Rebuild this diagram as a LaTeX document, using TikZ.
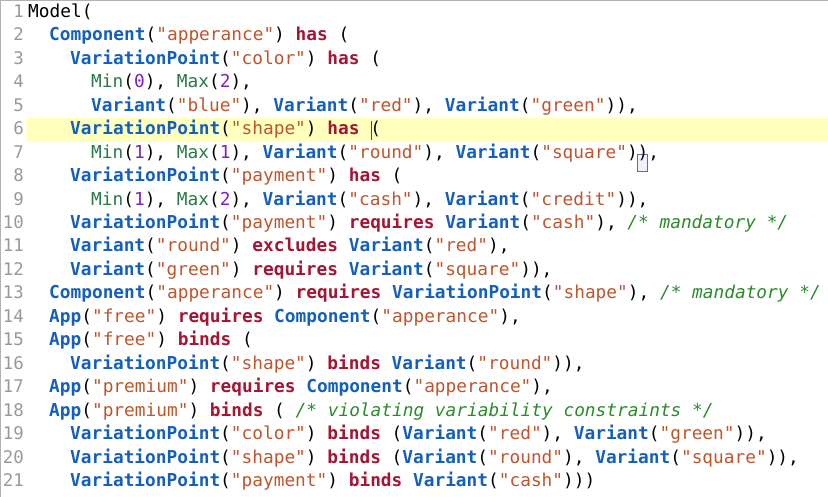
\documentclass[tikz,border=0pt]{standalone}
\usepackage{fontspec}
\usepackage{xcolor}
\newfontfamily\codefont{DejaVu Sans Mono}[Scale=1]
\definecolor{kwblue}{RGB}{20,95,190}
\definecolor{opred}{RGB}{165,20,50}
\definecolor{strbrown}{RGB}{190,85,45}
\definecolor{fngreen}{RGB}{40,120,70}
\definecolor{numpurple}{RGB}{125,30,200}
\definecolor{cmtgreen}{RGB}{40,140,40}
\definecolor{hlyellow}{RGB}{255,255,190}
\newcommand{\kw}[1]{\textcolor{kwblue}{\bfseries #1}}
\newcommand{\op}[1]{\textcolor{opred}{\bfseries #1}}
\newcommand{\st}[1]{\textcolor{strbrown}{"#1"}}
\newcommand{\fn}[1]{\textcolor{fngreen}{#1}}
\newcommand{\nm}[1]{\textcolor{numpurple}{#1}}
\newcommand{\cm}[1]{\textcolor{cmtgreen}{\itshape #1}}
\tikzset{
    code/.style={anchor=base west, inner sep=0pt, font=\codefont\fontsize{17.8pt}{20pt}\selectfont},
    lineno/.style={anchor=base east, inner sep=0pt, text=black!40, font=\codefont\fontsize{17.4pt}{20pt}\selectfont},
}

\begin{document}
\begin{tikzpicture}[x=1pt, y=-1pt]
    \useasboundingbox (0,0) rectangle (828,497);
    \draw[black!30] (0.3,0.3) rectangle (827.7,496.7);
    % current line
    \fill[hlyellow] (26,118) rectangle (828,142);
    \draw[black!70] (371,121) -- (371,140);
    \draw[blue!50!black!60, fill=blue!6] (637,154) rectangle (647,171);

    \foreach \i in {1,...,21}
      \node[lineno] (n\i) at (24,{17.5+(\i-1)*23.45}) {\i};

    \node[code] (l1)  at (28,17.5)   {Model(};
    \node[code] (l2)  at (49,40.95)  {\kw{Component}(\st{apperance}) \op{has} (};
    \node[code] (l3)  at (70,64.4)   {\kw{VariationPoint}(\st{color}) \op{has} (};
    \node[code] (l4)  at (91,87.85)  {\fn{Min}(\nm{0}), \fn{Max}(\nm{2}),};
    \node[code] (l5)  at (91,111.3)  {\kw{Variant}(\st{blue}), \kw{Variant}(\st{red}), \kw{Variant}(\st{green})),};
    \node[code] (l6)  at (70,134.75) {\kw{VariationPoint}(\st{shape}) \op{has} (};
    \node[code] (l7)  at (91,158.2)  {\fn{Min}(\nm{1}), \fn{Max}(\nm{1}), \kw{Variant}(\st{round}), \kw{Variant}(\st{square})),};
    \node[code] (l8)  at (70,181.65) {\kw{VariationPoint}(\st{payment}) \op{has} (};
    \node[code] (l9)  at (91,205.1)  {\fn{Min}(\nm{1}), \fn{Max}(\nm{2}), \kw{Variant}(\st{cash}), \kw{Variant}(\st{credit})),};
    \node[code] (l10) at (70,228.55) {\kw{VariationPoint}(\st{payment}) \op{requires} \kw{Variant}(\st{cash}), \cm{/* mandatory */}};
    \node[code] (l11) at (70,252)    {\kw{Variant}(\st{round}) \op{excludes} \kw{Variant}(\st{red}),};
    \node[code] (l12) at (70,275.45) {\kw{Variant}(\st{green}) \op{requires} \kw{Variant}(\st{square})),};
    \node[code] (l13) at (49,298.9)  {\kw{Component}(\st{apperance}) \op{requires} \kw{VariationPoint}(\st{shape}), \cm{/* mandatory */}};
    \node[code] (l14) at (49,322.35) {\kw{App}(\st{free}) \op{requires} \kw{Component}(\st{apperance}),};
    \node[code] (l15) at (49,345.8)  {\kw{App}(\st{free}) \op{binds} (};
    \node[code] (l16) at (70,369.25) {\kw{VariationPoint}(\st{shape}) \op{binds} \kw{Variant}(\st{round})),};
    \node[code] (l17) at (49,392.7)  {\kw{App}(\st{premium}) \op{requires} \kw{Component}(\st{apperance}),};
    \node[code] (l18) at (49,416.15) {\kw{App}(\st{premium}) \op{binds} ( \cm{/* violating variability constraints */}};
    \node[code] (l19) at (70,439.6)  {\kw{VariationPoint}(\st{color}) \op{binds} (\kw{Variant}(\st{red}), \kw{Variant}(\st{green})),};
    \node[code] (l20) at (70,463.05) {\kw{VariationPoint}(\st{shape}) \op{binds} (\kw{Variant}(\st{round}), \kw{Variant}(\st{square})),};
    \node[code] (l21) at (70,486.5)  {\kw{VariationPoint}(\st{payment}) \op{binds} \kw{Variant}(\st{cash})))};
\end{tikzpicture}
\end{document}
